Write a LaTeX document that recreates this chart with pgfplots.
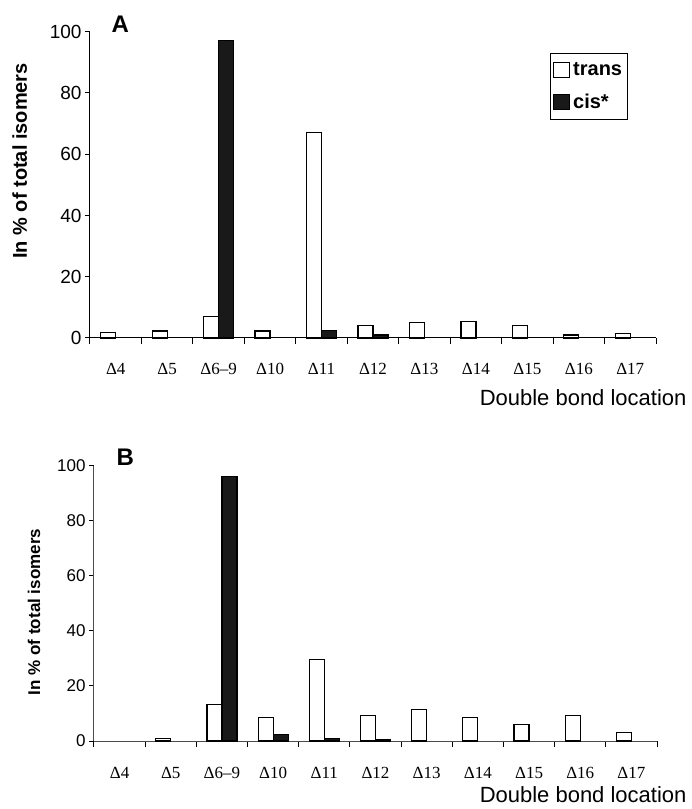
\documentclass[border=0pt]{standalone}
\usepackage{fontspec}
\setmainfont{Liberation Sans}
\newfontfamily\timesfont{Liberation Serif}
\usepackage{pgfplots}
\pgfplotsset{compat=1.18}

\pgfplotsset{
  isomers/.style={
    scale only axis,
    axis lines=left,
    axis line style={-, line width=1pt},
    xmin=-0.5, xmax=10.5, ymin=0, ymax=100,
    ytick={0,20,...,100},
    xtick={0,...,10},
    xticklabels={Δ4, Δ5, Δ6–9, Δ10, Δ11, Δ12, Δ13, Δ14, Δ15, Δ16, Δ17},
    minor xtick={-0.5,0.5,...,10.5},
    major x tick style={draw=none},
    tick align=outside, tick pos=left,
    major tick length=5pt, minor tick length=6pt,
    tick style={line width=1pt, black},
    ybar=0pt, bar width=15pt,
    enlargelimits=false,
    clip=false,
    /pgf/number format/assume math mode=true,
    xticklabel style={font=\timesfont\fontsize{17}{19}\selectfont, anchor=base, yshift=-32pt},
    xlabel={Double bond location},
    xlabel style={at={(rel axis cs:1,0)}, anchor=base east, font=\fontsize{22}{24}\selectfont},
    every axis plot post/.append style={
      legend image code/.code={\draw[#1] (0pt,-7.5pt) rectangle (16pt,7.5pt);}},
  },
  transbar/.style={draw=black, fill=white, line width=1.2pt},
  cisbar/.style={draw=black, fill=black!90, line width=1.2pt},
}

\begin{document}
\begin{tikzpicture}
\useasboundingbox (0,0) rectangle (692pt,809pt);

% Panel A
\begin{axis}[isomers,
  at={(90pt,471pt)}, anchor=south west,
  width=566pt, height=306.3pt,
  yticklabel style={font=\fontsize{19}{21}\selectfont},
  ylabel={\bfseries In \% of total isomers},
  ylabel style={at={(axis description cs:-0.124,0.578)}, anchor=center, font=\fontsize{20}{22}\selectfont},
  xlabel style={xshift=34pt, yshift=-68pt},
  legend style={at={(rel axis cs:0.812,0.9295)}, anchor=north west,
    draw=black, line width=0.8pt, font=\bfseries\fontsize{20}{22}\selectfont,
    legend cell align=left, inner xsep=3pt, inner ysep=7pt, /tikz/row sep=13pt,
    /tikz/every odd column/.append style={column sep=1pt}},
]
\addplot[transbar] coordinates {(0,1.8) (1,2.3) (2,6.9) (3,2.3) (4,67.1) (5,4.0) (6,5.1) (7,5.4) (8,4.0) (9,1.0) (10,1.5)};
\addplot[cisbar] coordinates {(2,97.1) (4,2.4) (5,1.0)};
\legend{trans, cis*}
\node[anchor=base west, font=\bfseries\fontsize{24}{26}\selectfont] at (rel axis cs:0.032,0.999) {A};
\end{axis}

% Panel B
\begin{axis}[isomers,
  at={(94pt,68pt)}, anchor=south west,
  width=563pt, height=275.3pt,
  axis line style={draw=black!70},
  yticklabel style={font=\fontsize{17}{19}\selectfont},
  ylabel={\bfseries In \% of total isomers},
  ylabel style={at={(axis description cs:-0.1066,0.4686)}, anchor=center, font=\fontsize{17}{19}\selectfont},
  xlabel style={xshift=33pt, yshift=-61pt},
]
\addplot[transbar] coordinates {(1,1.0) (2,13.3) (3,8.4) (4,29.7) (5,9.3) (6,11.3) (7,8.4) (8,5.9) (9,9.3) (10,3.0)};
\addplot[cisbar] coordinates {(2,96.2) (3,2.5) (4,1.0) (5,0.5)};
\node[anchor=base west, font=\bfseries\fontsize{24}{26}\selectfont] at (rel axis cs:0.034,1.0025) {B};
\end{axis}
\end{tikzpicture}
\end{document}
